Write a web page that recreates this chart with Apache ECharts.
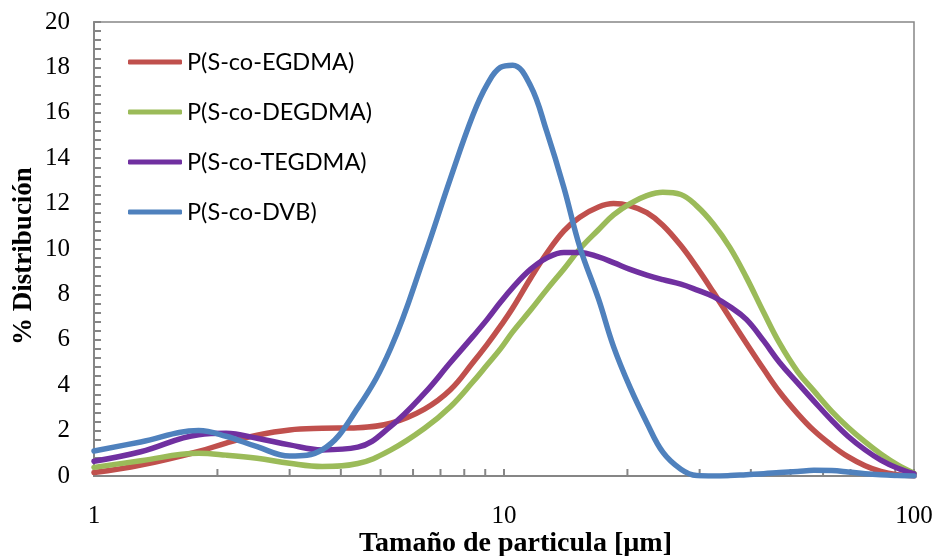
<!DOCTYPE html>
<html>
<head>
<meta charset="utf-8">
<script src="https://cdn.jsdelivr.net/npm/echarts@6/dist/echarts.min.js"></script>
<style>
  html, body { margin: 0; padding: 0; background: #fff; }
  #chart { width: 938px; height: 556px; }
</style>
</head>
<body>
<div id="chart"></div>
<script>
// Particle size grid (µm) shared by all four distributions
const sizes = [1, 1.3, 1.8, 2.1, 2.5, 3, 3.6, 4.4, 5.3, 6.4, 7.4, 8.4, 9.1, 9.8, 10.5, 11.6, 12.7, 14, 15.3, 17, 18.5,
               20.3, 22.3, 24.4, 27, 29.5, 32.4, 35.6, 39, 43, 47, 52, 57, 63, 69, 76, 83, 91, 100];

// % distribution for each copolymer
const egdma  = [0.15, 0.48, 1.08, 1.45, 1.8, 2.03, 2.1, 2.13, 2.33, 2.95, 3.8, 5.0, 5.8, 6.6, 7.4, 8.7, 9.8, 10.8, 11.4, 11.85, 12.0,
                11.9, 11.6, 11.05, 10.15, 9.2, 8.1, 6.95, 5.85, 4.7, 3.7, 2.75, 2.0, 1.35, 0.85, 0.45, 0.2, 0.06, 0];
const degdma = [0.38, 0.67, 1.0, 0.92, 0.78, 0.56, 0.42, 0.55, 1.15, 2.1, 3.05, 4.15, 4.9, 5.6, 6.35, 7.3, 8.2, 9.12, 10.0, 10.85, 11.5,
                12.0, 12.35, 12.5, 12.4, 11.9, 11.1, 10.05, 8.75, 7.2, 5.85, 4.6, 3.75, 2.85, 2.15, 1.5, 0.97, 0.5, 0.12];
const tegdma = [0.65, 1.07, 1.82, 1.88, 1.66, 1.37, 1.15, 1.27, 2.2, 3.65, 5.0, 6.15, 6.9, 7.65, 8.3, 9.1, 9.6, 9.85, 9.85, 9.65, 9.4,
                9.1, 8.85, 8.65, 8.45, 8.2, 7.9, 7.45, 6.9, 5.95, 5.0, 4.1, 3.3, 2.45, 1.75, 1.15, 0.7, 0.35, 0.1];
const dvb    = [1.1, 1.5, 2.0, 1.75, 1.29, 0.88, 1.15, 3.0, 5.65, 9.7, 13.1, 15.9, 17.25, 18.0, 18.1, 17.2, 15.2, 12.7, 10.1, 7.8, 5.7,
                3.9, 2.35, 1.05, 0.3, 0.02, 0, 0.02, 0.06, 0.1, 0.15, 0.2, 0.25, 0.24, 0.18, 0.1, 0.05, 0.02, 0];

const seriesNames = ['P(S-co-EGDMA)', 'P(S-co-DEGDMA)', 'P(S-co-TEGDMA)', 'P(S-co-DVB)'];
const seriesColors = ['#C0504D', '#9BBB59', '#7030A0', '#4F81BD'];

// Minor tick positions on the logarithmic size axis
const minorTicks = [2, 3, 4, 5, 6, 7, 8, 9, 20, 30, 40, 50, 60, 70, 80, 90];

const axisGray = '#868686';
const serif = '"Liberation Serif", "Times New Roman", serif';

const lineSeries = [egdma, degdma, tegdma, dvb].map((vals, i) => ({
  name: seriesNames[i],
  type: 'line',
  data: sizes.map((s, k) => [s, vals[k]]),
  smooth: 0.4,
  showSymbol: false,
  symbol: 'none',
  lineStyle: { color: seriesColors[i], width: 5.5, cap: 'round', join: 'round' },
  itemStyle: { color: seriesColors[i] },
  z: 3 + i
}));

const chart = echarts.init(document.getElementById('chart'), null, { renderer: 'canvas' });
chart.setOption({
  animation: false,
  backgroundColor: '#ffffff',
  grid: {
    left: 94, right: 24, top: 22, bottom: 80,
    show: true, borderColor: axisGray, borderWidth: 1.5,
    outerBoundsMode: 'none'
  },
  legend: {
    data: seriesNames,
    orient: 'vertical',
    left: 128, top: 50,
    padding: 0,
    itemWidth: 54, itemHeight: 5, itemGap: 26,
    icon: 'roundRect',
    textStyle: { fontFamily: 'Lato, "Open Sans", sans-serif', fontSize: 23.5, color: '#000' }
  },
  xAxis: {
    type: 'log', logBase: 10, min: 1, max: 100, splitNumber: 2,
    name: 'Tamaño de particula [µm]',
    nameLocation: 'middle', nameGap: 54, nameMoveOverlap: false,
    nameTextStyle: { fontFamily: serif, fontWeight: 'bold', fontSize: 28, color: '#000', padding: [0, 0, 0, 23] },
    axisLine: { lineStyle: { color: axisGray, width: 2 } },
    axisTick: { inside: true, length: 7, lineStyle: { color: axisGray, width: 2 } },
    axisLabel: { margin: 28, fontFamily: serif, fontSize: 25, color: '#000' },
    splitLine: { show: false }
  },
  yAxis: {
    type: 'value', min: 0, max: 20, interval: 2,
    name: '% Distribución',
    nameLocation: 'middle', nameGap: 56, nameRotate: 90, nameMoveOverlap: false,
    nameTextStyle: { fontFamily: serif, fontWeight: 'bold', fontSize: 27, color: '#000', padding: [0, 14, 0, 0] },
    axisLine: { lineStyle: { color: axisGray, width: 2 } },
    axisTick: { inside: true, length: 7, lineStyle: { color: axisGray, width: 2 } },
    minorTick: { show: true, splitNumber: 5, length: 7, lineStyle: { color: axisGray, width: 2 } },
    axisLabel: { margin: 24, fontFamily: serif, fontSize: 25, color: '#000' },
    splitLine: { show: false }
  },
  series: lineSeries.concat([{
    type: 'custom',
    name: 'minorTicks',
    silent: true,
    z: 2,
    data: minorTicks.map(v => [v, 0]),
    renderItem: function (params, api) {
      const p = api.coord([api.value(0), 0]);
      return {
        type: 'line',
        shape: { x1: p[0], y1: p[1], x2: p[0], y2: p[1] - 7 },
        style: { stroke: axisGray, lineWidth: 2 }
      };
    }
  }])
});
</script>
</body>
</html>
